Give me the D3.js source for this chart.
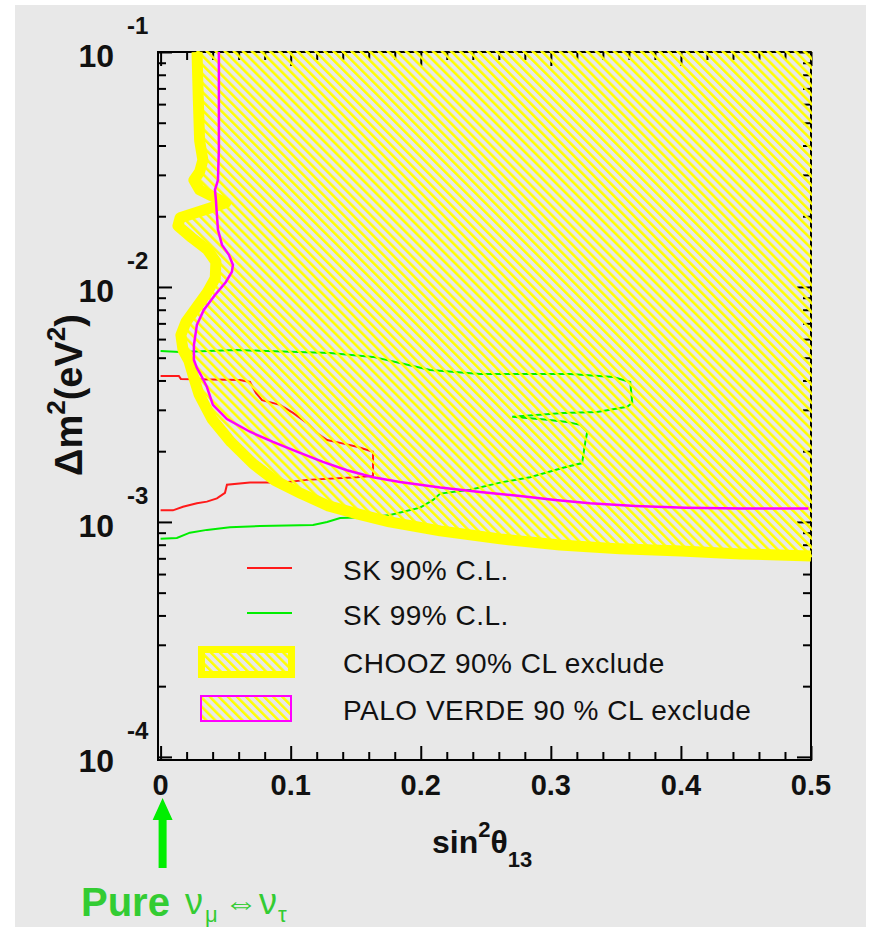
<!DOCTYPE html>
<html>
<head>
<meta charset="utf-8">
<script src="https://cdn.jsdelivr.net/npm/d3@7"></script>
<style>
  body { margin: 0; background: #ffffff; }
  svg text { font-family: "Liberation Sans", Arial, Helvetica, sans-serif; }
</style>
</head>
<body>
<svg id="chart" width="881" height="927"></svg>
<script>
// ---- axis values ----
const xMajorTicks = [0, 0.1, 0.2, 0.3, 0.4, 0.5];
const xTickLabels = ["0", "0.1", "0.2", "0.3", "0.4", "0.5"];
const yDecades = [1e-1, 1e-2, 1e-3, 1e-4];
const yExponents = ["-1", "-2", "-3", "-4"];

// ---- contours: [sin^2(theta13), delta m^2 (eV^2)] ----
// CHOOZ 90% CL exclusion boundary (excluded region lies to the right / above)
const choozBoundary = [
  [0.028, 0.1], [0.029, 0.0625], [0.030, 0.042], [0.0325, 0.0347],
  [0.030, 0.0309], [0.0256, 0.0285], [0.030, 0.0259], [0.050, 0.0228],
  [0.034, 0.0213], [0.015, 0.0197], [0.0133, 0.0182], [0.024, 0.0162],
  [0.036, 0.0144], [0.0425, 0.0128], [0.042, 0.0109], [0.036, 0.0095],
  [0.027, 0.0081], [0.0195, 0.0071], [0.0156, 0.00625], [0.0172, 0.0054],
  [0.0218, 0.00484], [0.0256, 0.0041], [0.0295, 0.0035], [0.0395, 0.00274],
  [0.054, 0.00219], [0.071, 0.00177], [0.088, 0.0015], [0.108, 0.00132],
  [0.129, 0.00117], [0.152, 0.00108], [0.176, 0.001], [0.215, 0.000916],
  [0.261, 0.000847], [0.307, 0.000798], [0.353, 0.000768], [0.40, 0.000752],
  [0.446, 0.000731], [0.5, 0.000716]
];
// corner of the plotted range closing the CHOOZ excluded area
const choozCorner = [0.5, 0.1];

// Palo Verde 90% CL exclusion boundary
const paloVerde = [
  [0.0448, 0.1], [0.0448, 0.0383], [0.0441, 0.0285], [0.0418, 0.0259],
  [0.0425, 0.0235], [0.0441, 0.0175], [0.0472, 0.0151], [0.0525, 0.0137],
  [0.0556, 0.0124], [0.0548, 0.0116], [0.0502, 0.0105], [0.0418, 0.00925],
  [0.0333, 0.0080], [0.0279, 0.0069], [0.0256, 0.00566], [0.0256, 0.00489],
  [0.0279, 0.00452], [0.031, 0.00422], [0.0356, 0.00375], [0.0402, 0.00315],
  [0.051, 0.00274], [0.0687, 0.00242], [0.0864, 0.00219], [0.1048, 0.00199],
  [0.1248, 0.0018], [0.1433, 0.00166], [0.1633, 0.00155], [0.184, 0.00148],
  [0.215, 0.0014], [0.2456, 0.00134], [0.2764, 0.00129], [0.3033, 0.00124],
  [0.33, 0.0012], [0.365, 0.00117], [0.4033, 0.00115], [0.4456, 0.00114],
  [0.498, 0.00114]
];

// Super-Kamiokande 90% CL allowed contour
const sk90 = [
  [0.0, 0.00112], [0.0095, 0.00112], [0.0172, 0.00116], [0.0279, 0.0012],
  [0.0356, 0.00122], [0.0433, 0.00126], [0.0495, 0.00133], [0.051, 0.00144],
  [0.0687, 0.00147], [0.0941, 0.00147], [0.1125, 0.00151], [0.151, 0.00155],
  [0.1633, 0.00157], [0.1633, 0.00199], [0.151, 0.00209], [0.138, 0.00217],
  [0.128, 0.00223], [0.1202, 0.00239], [0.1125, 0.00264], [0.1018, 0.00291],
  [0.0918, 0.00315], [0.078, 0.0033], [0.0733, 0.00354], [0.0687, 0.00394],
  [0.061, 0.00402], [0.0156, 0.00406], [0.014, 0.00418], [0.0, 0.00418]
];

// Super-Kamiokande 99% CL allowed contour
const sk99 = [
  [0.0, 0.000847], [0.0125, 0.000855], [0.0225, 0.0009], [0.0356, 0.000925],
  [0.0533, 0.00095], [0.0764, 0.00096], [0.1172, 0.00097], [0.128, 0.001],
  [0.138, 0.00104], [0.1633, 0.00105], [0.1764, 0.00107], [0.1995, 0.00115],
  [0.2095, 0.00124], [0.2149, 0.00132], [0.238, 0.00137], [0.261, 0.00147],
  [0.284, 0.00155], [0.3095, 0.0017], [0.324, 0.00178], [0.3264, 0.00217],
  [0.328, 0.00242], [0.3226, 0.00259], [0.3125, 0.00266], [0.2972, 0.00272],
  [0.2703, 0.0028], [0.3095, 0.00291], [0.3356, 0.00294], [0.3587, 0.00309],
  [0.3626, 0.00321], [0.361, 0.00394], [0.348, 0.00414], [0.3149, 0.00426],
  [0.2456, 0.00426], [0.2072, 0.00443], [0.184, 0.00475], [0.1633, 0.00504],
  [0.1302, 0.00524], [0.0818, 0.00534], [0.0587, 0.00539], [0.0148, 0.00529],
  [0.0, 0.00534]
];

const legendLabels = ["SK 90% C.L.", "SK 99% C.L.", "CHOOZ 90% CL exclude", "PALO VERDE 90 % CL exclude"];

// ---- layout ----
const svg = d3.select("#chart");
const frame = { left: 158, right: 811, top: 52, bottom: 760 };

const x = d3.scaleLinear().domain([-0.002, 0.5]).range([frame.left, frame.right]);
const y = d3.scaleLog().domain([9.7e-5, 0.1]).range([frame.bottom, frame.top]);

const YELLOW = "#ffff00", RED = "#ff1a1a", GREEN = "#00ee00", MAGENTA = "#ff00ff";

// page panel
svg.append("rect").attr("x", 15).attr("y", 5).attr("width", 851).attr("height", 922).attr("fill", "#e8e8e8");

const defs = svg.append("defs");
const hatch = defs.append("pattern")
  .attr("id", "hatch").attr("patternUnits", "userSpaceOnUse")
  .attr("width", 6.4).attr("height", 6.4)
  .attr("patternTransform", "rotate(-45)");
hatch.append("rect").attr("x", 0).attr("y", 0).attr("width", 2.5).attr("height", 6.4).attr("fill", YELLOW);

defs.append("clipPath").attr("id", "plotClip")
  .append("rect").attr("x", frame.left - 1).attr("y", frame.top - 1)
  .attr("width", frame.right - frame.left + 2).attr("height", frame.bottom - frame.top + 2);

// ---- frame and ticks ----
const axisG = svg.append("g").attr("stroke-width", 2);
const xMinor = d3.range(0.02, 0.5, 0.02).filter(v => Math.abs(v * 10 - Math.round(v * 10)) > 1e-6);
const yMinor = [];
[1e-4, 1e-3, 1e-2].forEach(d => { for (let k = 2; k <= 9; k++) yMinor.push(k * d); });

function tickAxis(axis, values, size, transform) {
  const g = axisG.append("g").attr("transform", transform)
    .call(axis.tickValues(values).tickSize(-size).tickFormat(""));
  g.select(".domain").remove();
  g.selectAll(".tick line").attr("stroke", "#000").attr("stroke-width", 2);
}
tickAxis(d3.axisBottom(x), xMajorTicks, 14, `translate(0,${frame.bottom})`);
tickAxis(d3.axisBottom(x), xMinor, 8, `translate(0,${frame.bottom})`);
tickAxis(d3.axisTop(x), xMajorTicks, 14, `translate(0,${frame.top})`);
tickAxis(d3.axisTop(x), xMinor, 8, `translate(0,${frame.top})`);
tickAxis(d3.axisLeft(y), yDecades, 14, `translate(${frame.left},0)`);
tickAxis(d3.axisLeft(y), yMinor, 8, `translate(${frame.left},0)`);
tickAxis(d3.axisRight(y), yDecades, 14, `translate(${frame.right},0)`);
tickAxis(d3.axisRight(y), yMinor, 8, `translate(${frame.right},0)`);

axisG.append("rect")
  .attr("x", frame.left).attr("y", frame.top)
  .attr("width", frame.right - frame.left).attr("height", frame.bottom - frame.top)
  .attr("fill", "none").attr("stroke", "#000").attr("stroke-width", 2);

// ---- contours ----
const line = d3.line().x(d => x(d[0])).y(d => y(d[1]));
const plot = svg.append("g").attr("clip-path", "url(#plotClip)");

plot.append("path").datum(sk90).attr("d", line)
  .attr("fill", "none").attr("stroke", RED).attr("stroke-width", 2);
plot.append("path").datum(sk99).attr("d", line)
  .attr("fill", "none").attr("stroke", GREEN).attr("stroke-width", 2);

// CHOOZ excluded area: hatched, then its thick boundary
const choozArea = choozBoundary.concat([choozCorner]);
plot.append("path").datum(choozArea).attr("d", d => line(d) + "Z")
  .attr("fill", "url(#hatch)").attr("stroke", "url(#hatch)").attr("stroke-width", 2.5);
plot.append("path").datum(choozBoundary).attr("d", line)
  .attr("fill", "none").attr("stroke", YELLOW).attr("stroke-width", 11)
  .attr("stroke-linejoin", "round");

plot.append("path").datum(paloVerde).attr("d", line)
  .attr("fill", "none").attr("stroke", MAGENTA).attr("stroke-width", 2.5);

// ---- tick labels ----
const labels = svg.append("g").attr("fill", "#111");
xMajorTicks.forEach((v, i) => {
  labels.append("text").attr("x", x(v)).attr("y", 795)
    .attr("text-anchor", "middle").attr("font-size", 29).attr("font-weight", "bold")
    .text(xTickLabels[i]);
});
yDecades.forEach((v, i) => {
  labels.append("text").attr("x", 114).attr("y", y(v) + 15)
    .attr("text-anchor", "end").attr("font-size", 32).attr("font-weight", "bold").text("10");
  labels.append("text").attr("x", 127).attr("y", y(v) - 18)
    .attr("text-anchor", "start").attr("font-size", 24).attr("font-weight", "bold").text(yExponents[i]);
});

// ---- axis titles ----
const xt = labels.append("text").attr("x", 432).attr("y", 853)
  .attr("font-size", 32).attr("font-weight", "bold");
xt.append("tspan").text("sin");
xt.append("tspan").attr("font-size", 22).attr("dy", -16).text("2");
xt.append("tspan").attr("dy", 16).text("θ");
xt.append("tspan").attr("font-size", 22).attr("dy", 14).text("13");

const yt = labels.append("text")
  .attr("transform", "translate(82,395) rotate(-90)")
  .attr("text-anchor", "middle")
  .attr("font-size", 38).attr("font-weight", "bold");
yt.append("tspan").text("Δm");
yt.append("tspan").attr("font-size", 26).attr("dy", -17).text("2");
yt.append("tspan").attr("dy", 17).text("(eV");
yt.append("tspan").attr("font-size", 26).attr("dy", -17).text("2");
yt.append("tspan").attr("dy", 17).text(")");

// ---- legend ----
const leg = svg.append("g");
leg.append("line").attr("x1", 247).attr("x2", 292).attr("y1", 568).attr("y2", 568)
  .attr("stroke", RED).attr("stroke-width", 2);
leg.append("line").attr("x1", 247).attr("x2", 292).attr("y1", 613).attr("y2", 613)
  .attr("stroke", GREEN).attr("stroke-width", 2);
leg.append("rect").attr("x", 201.5).attr("y", 649.5).attr("width", 90).attr("height", 25)
  .attr("fill", "url(#hatch)").attr("stroke", YELLOW).attr("stroke-width", 7);
leg.append("rect").attr("x", 201).attr("y", 696).attr("width", 90).attr("height", 25)
  .attr("fill", "url(#hatch)").attr("stroke", MAGENTA).attr("stroke-width", 2);
const legBaselines = [580, 625, 673, 720];
legendLabels.forEach((t, i) => {
  leg.append("text").attr("x", 343).attr("y", legBaselines[i])
    .attr("font-size", 28).attr("letter-spacing", 0.5).attr("fill", "#111").text(t);
});

// ---- pure nu_mu <-> nu_tau marker at sin^2 = 0 ----
const ax = x(0) + 2;
svg.append("path")
  .attr("d", `M${ax},798 L${ax + 10},820 L${ax + 4},820 L${ax + 4},868 L${ax - 4},868 L${ax - 4},820 L${ax - 10},820 Z`)
  .attr("fill", "#00ee00");
const note = svg.append("g").attr("fill", "#33cc33");
note.append("text").attr("x", 81).attr("y", 916)
  .attr("font-size", 40).attr("font-weight", "bold").text("Pure");
note.append("text").attr("x", 185).attr("y", 914).attr("font-size", 36).text("ν");
note.append("text").attr("x", 205).attr("y", 922).attr("font-size", 22).text("μ");
note.append("text").attr("x", 224).attr("y", 914)
  .attr("font-family", "'DejaVu Sans', sans-serif").attr("font-size", 34).text("⇔");
note.append("text").attr("x", 259).attr("y", 914).attr("font-size", 36).text("ν");
note.append("text").attr("x", 278).attr("y", 922).attr("font-size", 22).text("τ");
</script>
</body>
</html>
